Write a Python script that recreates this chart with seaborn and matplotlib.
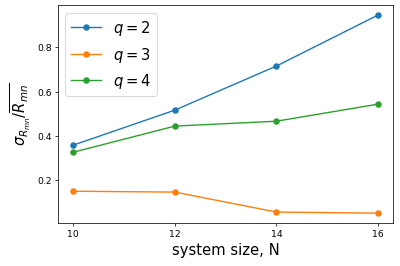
import matplotlib
matplotlib.use("Agg")
import matplotlib.pyplot as plt
import seaborn as sns
import pandas as pd

N = [10, 12, 14, 16]
q2 = [0.358, 0.516, 0.715, 0.945]
q3 = [0.150, 0.146, 0.056, 0.051]
q4 = [0.326, 0.444, 0.466, 0.543]
labels = ["$q=2$", "$q=3$", "$q=4$"]
colors = ["#1f77b4", "#ff7f0e", "#2ca02c"]

df = pd.DataFrame({
    "N": N * 3,
    "val": q2 + q3 + q4,
    "q": [labels[0]] * 4 + [labels[1]] * 4 + [labels[2]] * 4,
})

fig = plt.figure(figsize=(6, 4), dpi=66.67)
ax = fig.add_axes([0.145, 0.161, 0.838, 0.817])
sns.lineplot(data=df, x="N", y="val", hue="q", palette=colors, marker="o",
             markersize=7, markeredgewidth=0, ax=ax, legend=True)
ax.set_xticks(N)
ax.set_yticks([0.2, 0.4, 0.6, 0.8])
ax.set_xlabel("system size, N", fontsize=16)
ax.set_ylabel(r"$\sigma_{R_{mn}}/\overline{R_{mn}}$", fontsize=16)
ax.legend(fontsize=16, loc="upper left")
fig.savefig("out.png", dpi=66.67)
